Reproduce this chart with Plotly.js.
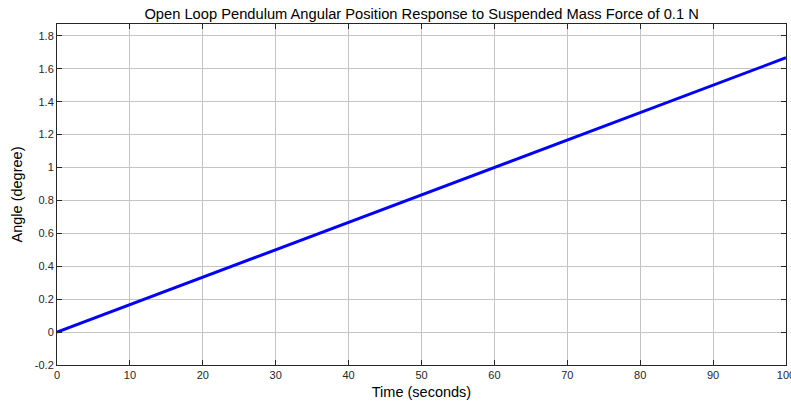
<!DOCTYPE html>
<html>
<head>
<meta charset="utf-8">
<script src="https://cdn.plot.ly/plotly-3.0.1.min.js"></script>
<style>html,body{margin:0;padding:0;background:#fff;}#chart{width:791px;height:406px;}</style>
</head>
<body>
<div id="chart"></div>
<script>
const timeSec = [0, 10, 20, 30, 40, 50, 60, 70, 80, 90, 100];
const angleDeg = [0, 0.167, 0.333, 0.5, 0.667, 0.833, 1.0, 1.167, 1.333, 1.5, 1.667];
const xTicks = [0, 10, 20, 30, 40, 50, 60, 70, 80, 90, 100];
const yTicks = [-0.2, 0, 0.2, 0.4, 0.6, 0.8, 1, 1.2, 1.4, 1.6, 1.8];
const yTickLabels = ['-0.2', '0', '0.2', '0.4', '0.6', '0.8', '1', '1.2', '1.4', '1.6', '1.8'];

const trace = {
  x: timeSec, y: angleDeg, type: 'scatter', mode: 'lines',
  line: {color: '#0000ff', width: 3}, hoverinfo: 'skip'
};
const axisCommon = {
  showgrid: true, gridcolor: '#c4c4c4', gridwidth: 1,
  zeroline: false, showline: true, linecolor: '#262626', linewidth: 1,
  mirror: 'ticks', ticks: 'inside', ticklen: 5, tickcolor: '#262626',
  ticklabeloverflow: 'allow',
  tickfont: {family: 'Liberation Sans, Arial, sans-serif', size: 11, color: '#262626'}
};
const layout = {
  width: 791, height: 406,
  margin: {l: 57, r: 5, t: 24, b: 41},
  paper_bgcolor: '#ffffff', plot_bgcolor: '#ffffff',
  showlegend: false,
  title: {text: 'Open Loop Pendulum Angular Position Response to Suspended Mass Force of 0.1 N',
    font: {family: 'Liberation Sans, Arial, sans-serif', size: 14.7, color: '#000'},
    x: 0.533, xanchor: 'center', y: 0.965, yanchor: 'middle'},
  xaxis: Object.assign({}, axisCommon, {
    range: [0, 100], tickvals: xTicks, ticktext: xTicks.map(String),
    title: {text: 'Time (seconds)', font: {family: 'Liberation Sans, Arial, sans-serif', size: 14.5, color: '#000'}, standoff: 6}
  }),
  yaxis: Object.assign({}, axisCommon, {
    range: [-0.2, 1.872], tickvals: yTicks, ticktext: yTickLabels,
    title: {text: 'Angle (degree)', font: {family: 'Liberation Sans, Arial, sans-serif', size: 14.5, color: '#000'}, standoff: 8}
  })
};
Plotly.newPlot('chart', [trace], layout, {staticPlot: true, displayModeBar: false});
</script>
</body>
</html>
